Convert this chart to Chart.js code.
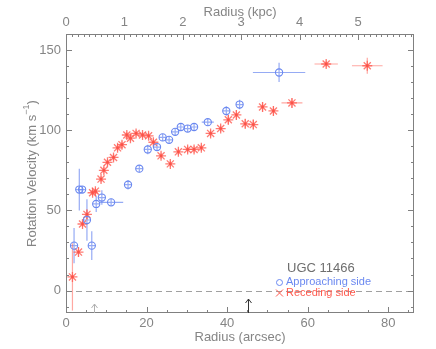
<!DOCTYPE html>
<html lang="en">
<head>
  <meta charset="UTF-8">
  <title>UGC 11466 - Rotation Curve</title>
  <script src="https://cdn.jsdelivr.net/npm/chart.js@4.4.0/dist/chart.umd.min.js"></script>
  <style>
    body { margin: 0; background: #fff; }
    #wrap { width: 436px; height: 349px; }
  </style>
</head>
<body>
  <div id="wrap"><canvas id="rc" width="436" height="349"></canvas></div>

  <script>
    // approaching side (blue circles)
    const approachR    = [2.0, 3.3, 4.0, 5.2, 6.4, 7.5, 8.9, 11.2, 15.4, 18.2, 20.3, 22.6, 24.0, 25.6, 27.1, 28.5, 30.2, 31.8, 35.2, 39.8, 43.1, 52.9];
    const approachV    = [28, 63, 63, 44, 28, 54, 58, 55, 66, 76, 88, 89.5, 95.5, 94, 99, 102, 101, 102, 105, 112, 116, 136];
    const approachErrR = [0, 0, 0, 0, 0, 0, 0, 3.0, 0, 0, 0, 0, 0, 0, 0, 0, 0, 0, 1.5, 0, 0, 6.5];
    const approachErrV = [11, 13, 1, 13, 9, 5, 4.5, 2, 3, 2, 3, 2, 2, 2, 2, 2, 2, 2, 1, 3, 3, 6];

    // receding side (red asterisks)
    const recedeR    = [1.6, 3.1, 4.1, 5.2, 6.6, 7.3, 8.7, 9.4, 10.3, 11.8, 12.8, 13.9, 15.1, 16.0, 17.4, 19.0, 20.5, 21.7, 23.6, 25.9, 27.9, 30.2, 31.8, 33.6, 35.9, 38.4, 40.3, 42.3, 44.5, 46.5, 48.8, 51.5, 56.1, 64.6, 74.8];
    const recedeV    = [8.5, 24, 41.5, 47.5, 61, 62, 69.5, 75, 80, 83, 89, 91, 97, 95, 98, 97, 96.5, 92.5, 84, 79, 86.5, 88, 88, 89, 98, 101, 106.5, 109.5, 104, 103.5, 114.5, 112, 117, 141.3, 140.2];
    const recedeErrR = [0, 0, 0, 0, 0, 0, 0, 0, 0, 0, 0, 0, 0, 0, 0, 0, 0, 0, 0, 0, 0, 0, 0, 0, 0, 0, 0, 0, 0, 0, 0, 0, 2.6, 2.9, 3.8];
    const recedeErrV = [21, 3, 2, 3, 2, 2, 2, 2, 2, 2, 2, 2, 2, 2, 2, 2, 2, 2, 2, 2, 2, 2, 2, 2, 2, 2, 3, 3, 3, 3, 3, 3, 3, 2, 5];

    // axes
    const radiusTicks = [0, 20, 40, 60, 80];
    const kpcTicks = [0, 1, 2, 3, 4, 5];
    const velTicks = [0, 50, 100, 150];
    const arcsecPerKpc = 14.5;
    const radiusMax = 86.4;
    const velMin = -14, velMax = 160;
    const arrowR = [6.9, 45.1];   // marked radii (arcsec)

    const FONT = '"Liberation Sans", Arial, sans-serif';
    const TXT = '#858585';
    const BLUE = '#6a88f0';
    const RED = '#ff5a4e';

    const toXY = (xs, ys) => xs.map((x, i) => ({ x: x, y: ys[i] }));

    // error bars + zero line, under the markers
    const errorBars = {
      id: 'errorBars',
      beforeDatasetsDraw(chart) {
        const { ctx, chartArea: a } = chart;
        const x = chart.scales.x, y = chart.scales.y;
        ctx.save();
        ctx.beginPath();
        ctx.rect(a.left, a.top, a.right - a.left, a.bottom - a.top);
        ctx.clip();

        // dashed zero line
        ctx.strokeStyle = '#a0a0a0';
        ctx.lineWidth = 1;
        ctx.setLineDash([6, 4]);
        ctx.beginPath();
        ctx.moveTo(a.left, Math.round(y.getPixelForValue(0)) + 0.5);
        ctx.lineTo(a.right, Math.round(y.getPixelForValue(0)) + 0.5);
        ctx.stroke();
        ctx.setLineDash([]);

        const draw = (rs, vs, er, ev, color, minLen) => {
          ctx.strokeStyle = color;
          ctx.lineWidth = 1.2;
          rs.forEach((r, i) => {
            const px = x.getPixelForValue(r), py = y.getPixelForValue(vs[i]);
            const dy = Math.max(Math.abs(y.getPixelForValue(vs[i] + ev[i]) - py), minLen);
            const dx = Math.max(Math.abs(x.getPixelForValue(r + er[i]) - px), minLen);
            ctx.beginPath();
            ctx.moveTo(px, py - dy); ctx.lineTo(px, py + dy);
            ctx.moveTo(px - dx, py); ctx.lineTo(px + dx, py);
            ctx.stroke();
          });
        };
        draw(approachR, approachV, approachErrR, approachErrV, 'rgba(106,136,240,0.7)', 3.5);
        draw(recedeR, recedeV, recedeErrR, recedeErrV, 'rgba(255,110,100,0.6)', 0);
        ctx.restore();
      }
    };

    // frame, inward ticks, titles, arrows and legend
    const frame = {
      id: 'frame',
      afterDraw(chart) {
        const { ctx, chartArea: a } = chart;
        const x = chart.scales.x, y = chart.scales.y, k = chart.scales.kpc;
        ctx.save();
        ctx.strokeStyle = '#808080';
        ctx.lineWidth = 1;
        ctx.strokeRect(a.left + 0.5, a.top + 0.5, a.right - a.left - 1, a.bottom - a.top - 1);

        ctx.beginPath();
        for (let v = 0; v <= radiusMax; v += 5) {
          const px = Math.round(x.getPixelForValue(v)) + 0.5;
          const len = v % 20 === 0 ? 6 : 3;
          ctx.moveTo(px, a.bottom); ctx.lineTo(px, a.bottom - len);
        }
        for (let i = 0; i / 10 <= radiusMax / arcsecPerKpc; i++) {
          const px = Math.round(k.getPixelForValue(i / 10)) + 0.5;
          const len = i % 10 === 0 ? 6 : 3;
          ctx.moveTo(px, a.top); ctx.lineTo(px, a.top + len);
        }
        for (let v = -10; v <= velMax; v += 10) {
          const py = Math.round(y.getPixelForValue(v)) + 0.5;
          const len = v % 50 === 0 ? 6 : 3;
          ctx.moveTo(a.left, py); ctx.lineTo(a.left + len, py);
          ctx.moveTo(a.right, py); ctx.lineTo(a.right - len, py);
        }
        ctx.stroke();

        // axis titles
        const cx = (a.left + a.right) / 2, cy = (a.top + a.bottom) / 2;
        ctx.fillStyle = TXT;
        ctx.font = '13px ' + FONT;
        ctx.textAlign = 'center';
        ctx.textBaseline = 'middle';
        ctx.fillText('Radius (arcsec)', cx, 337);
        ctx.fillText('Radius (kpc)', cx, 12);

        ctx.save();
        ctx.translate(32, cy);
        ctx.rotate(-Math.PI / 2);
        const main = 'Rotation Velocity (km s', sup = '\u22121', tail = ')';
        const w1 = ctx.measureText(main).width;
        ctx.font = '9px ' + FONT;
        const w2 = ctx.measureText(sup).width;
        ctx.font = '13px ' + FONT;
        const w3 = ctx.measureText(tail).width;
        let sx = -(w1 + w2 + w3) / 2;
        ctx.textAlign = 'left';
        ctx.fillText(main, sx, 0);
        ctx.font = '9px ' + FONT;
        ctx.fillText(sup, sx + w1, -5);
        ctx.font = '13px ' + FONT;
        ctx.fillText(tail, sx + w1 + w2, 0);
        ctx.restore();

        // arrows on the bottom axis
        const arrow = (r, len, color) => {
          const px = Math.round(x.getPixelForValue(r)) + 0.5;
          ctx.strokeStyle = color;
          ctx.beginPath();
          ctx.moveTo(px, a.bottom); ctx.lineTo(px, a.bottom - len);
          ctx.moveTo(px - 3, a.bottom - len + 4); ctx.lineTo(px, a.bottom - len); ctx.lineTo(px + 3, a.bottom - len + 4);
          ctx.stroke();
        };
        arrow(arrowR[0], 9, '#b0b0b0');
        arrow(arrowR[1], 14, '#333');

        // legend
        ctx.textAlign = 'left';
        ctx.fillStyle = '#6e6e6e';
        ctx.font = '13px ' + FONT;
        ctx.fillText('UGC 11466', 287, 268);
        ctx.font = '11px ' + FONT;
        ctx.fillStyle = BLUE;
        ctx.fillText('Approaching side', 286, 282);
        ctx.strokeStyle = BLUE;
        ctx.beginPath(); ctx.arc(279.5, 282.5, 3, 0, Math.PI * 2); ctx.stroke();
        ctx.fillStyle = RED;
        ctx.fillText('Receding side', 286, 293);
        ctx.strokeStyle = RED;
        ctx.beginPath();
        ctx.moveTo(276, 289.5); ctx.lineTo(283, 296.5);
        ctx.moveTo(283, 289.5); ctx.lineTo(276, 296.5);
        ctx.stroke();
        ctx.restore();
      }
    };

    const tickFont = { family: FONT, size: 13 };

    new Chart(document.getElementById('rc'), {
      type: 'scatter',
      data: {
        datasets: [
          {
            label: 'Approaching side',
            data: toXY(approachR, approachV),
            pointStyle: 'circle',
            pointRadius: 3.6,
            borderColor: BLUE,
            backgroundColor: 'rgba(0,0,0,0)',
            borderWidth: 1.1
          },
          {
            label: 'Receding side',
            data: toXY(recedeR, recedeV),
            pointStyle: 'star',
            pointRadius: 5,
            borderColor: 'rgba(255,90,80,0.8)',
            borderWidth: 1.3
          },
          {
            label: 'Receding centre',
            data: toXY(recedeR, recedeV),
            pointStyle: 'circle',
            pointRadius: 1.4,
            backgroundColor: '#e8342a',
            borderWidth: 0
          }
        ]
      },
      options: {
        responsive: false,
        animation: false,
        layout: { padding: { left: 0, right: 22, top: 0, bottom: 0 } },
        plugins: { legend: { display: false }, tooltip: { enabled: false } },
        scales: {
          x: {
            type: 'linear', position: 'bottom', min: 0, max: radiusMax,
            afterBuildTicks: s => { s.ticks = radiusTicks.map(v => ({ value: v })); },
            afterFit: s => { s.height = 36; },
            grid: { display: false, drawTicks: false },
            border: { display: false },
            ticks: { color: TXT, font: tickFont, padding: 3, maxRotation: 0 }
          },
          kpc: {
            type: 'linear', position: 'top', min: 0, max: radiusMax / arcsecPerKpc,
            afterBuildTicks: s => { s.ticks = kpcTicks.map(v => ({ value: v })); },
            afterFit: s => { s.height = 34; },
            grid: { display: false, drawTicks: false },
            border: { display: false },
            ticks: { color: TXT, font: tickFont, padding: 4, maxRotation: 0 }
          },
          y: {
            type: 'linear', min: velMin, max: velMax,
            afterBuildTicks: s => { s.ticks = velTicks.map(v => ({ value: v })); },
            afterFit: s => { s.width = 66; },
            grid: { display: false, drawTicks: false },
            border: { display: false },
            ticks: { color: TXT, font: tickFont, padding: 5 }
          }
        }
      },
      plugins: [errorBars, frame]
    });
  </script>
</body>
</html>
